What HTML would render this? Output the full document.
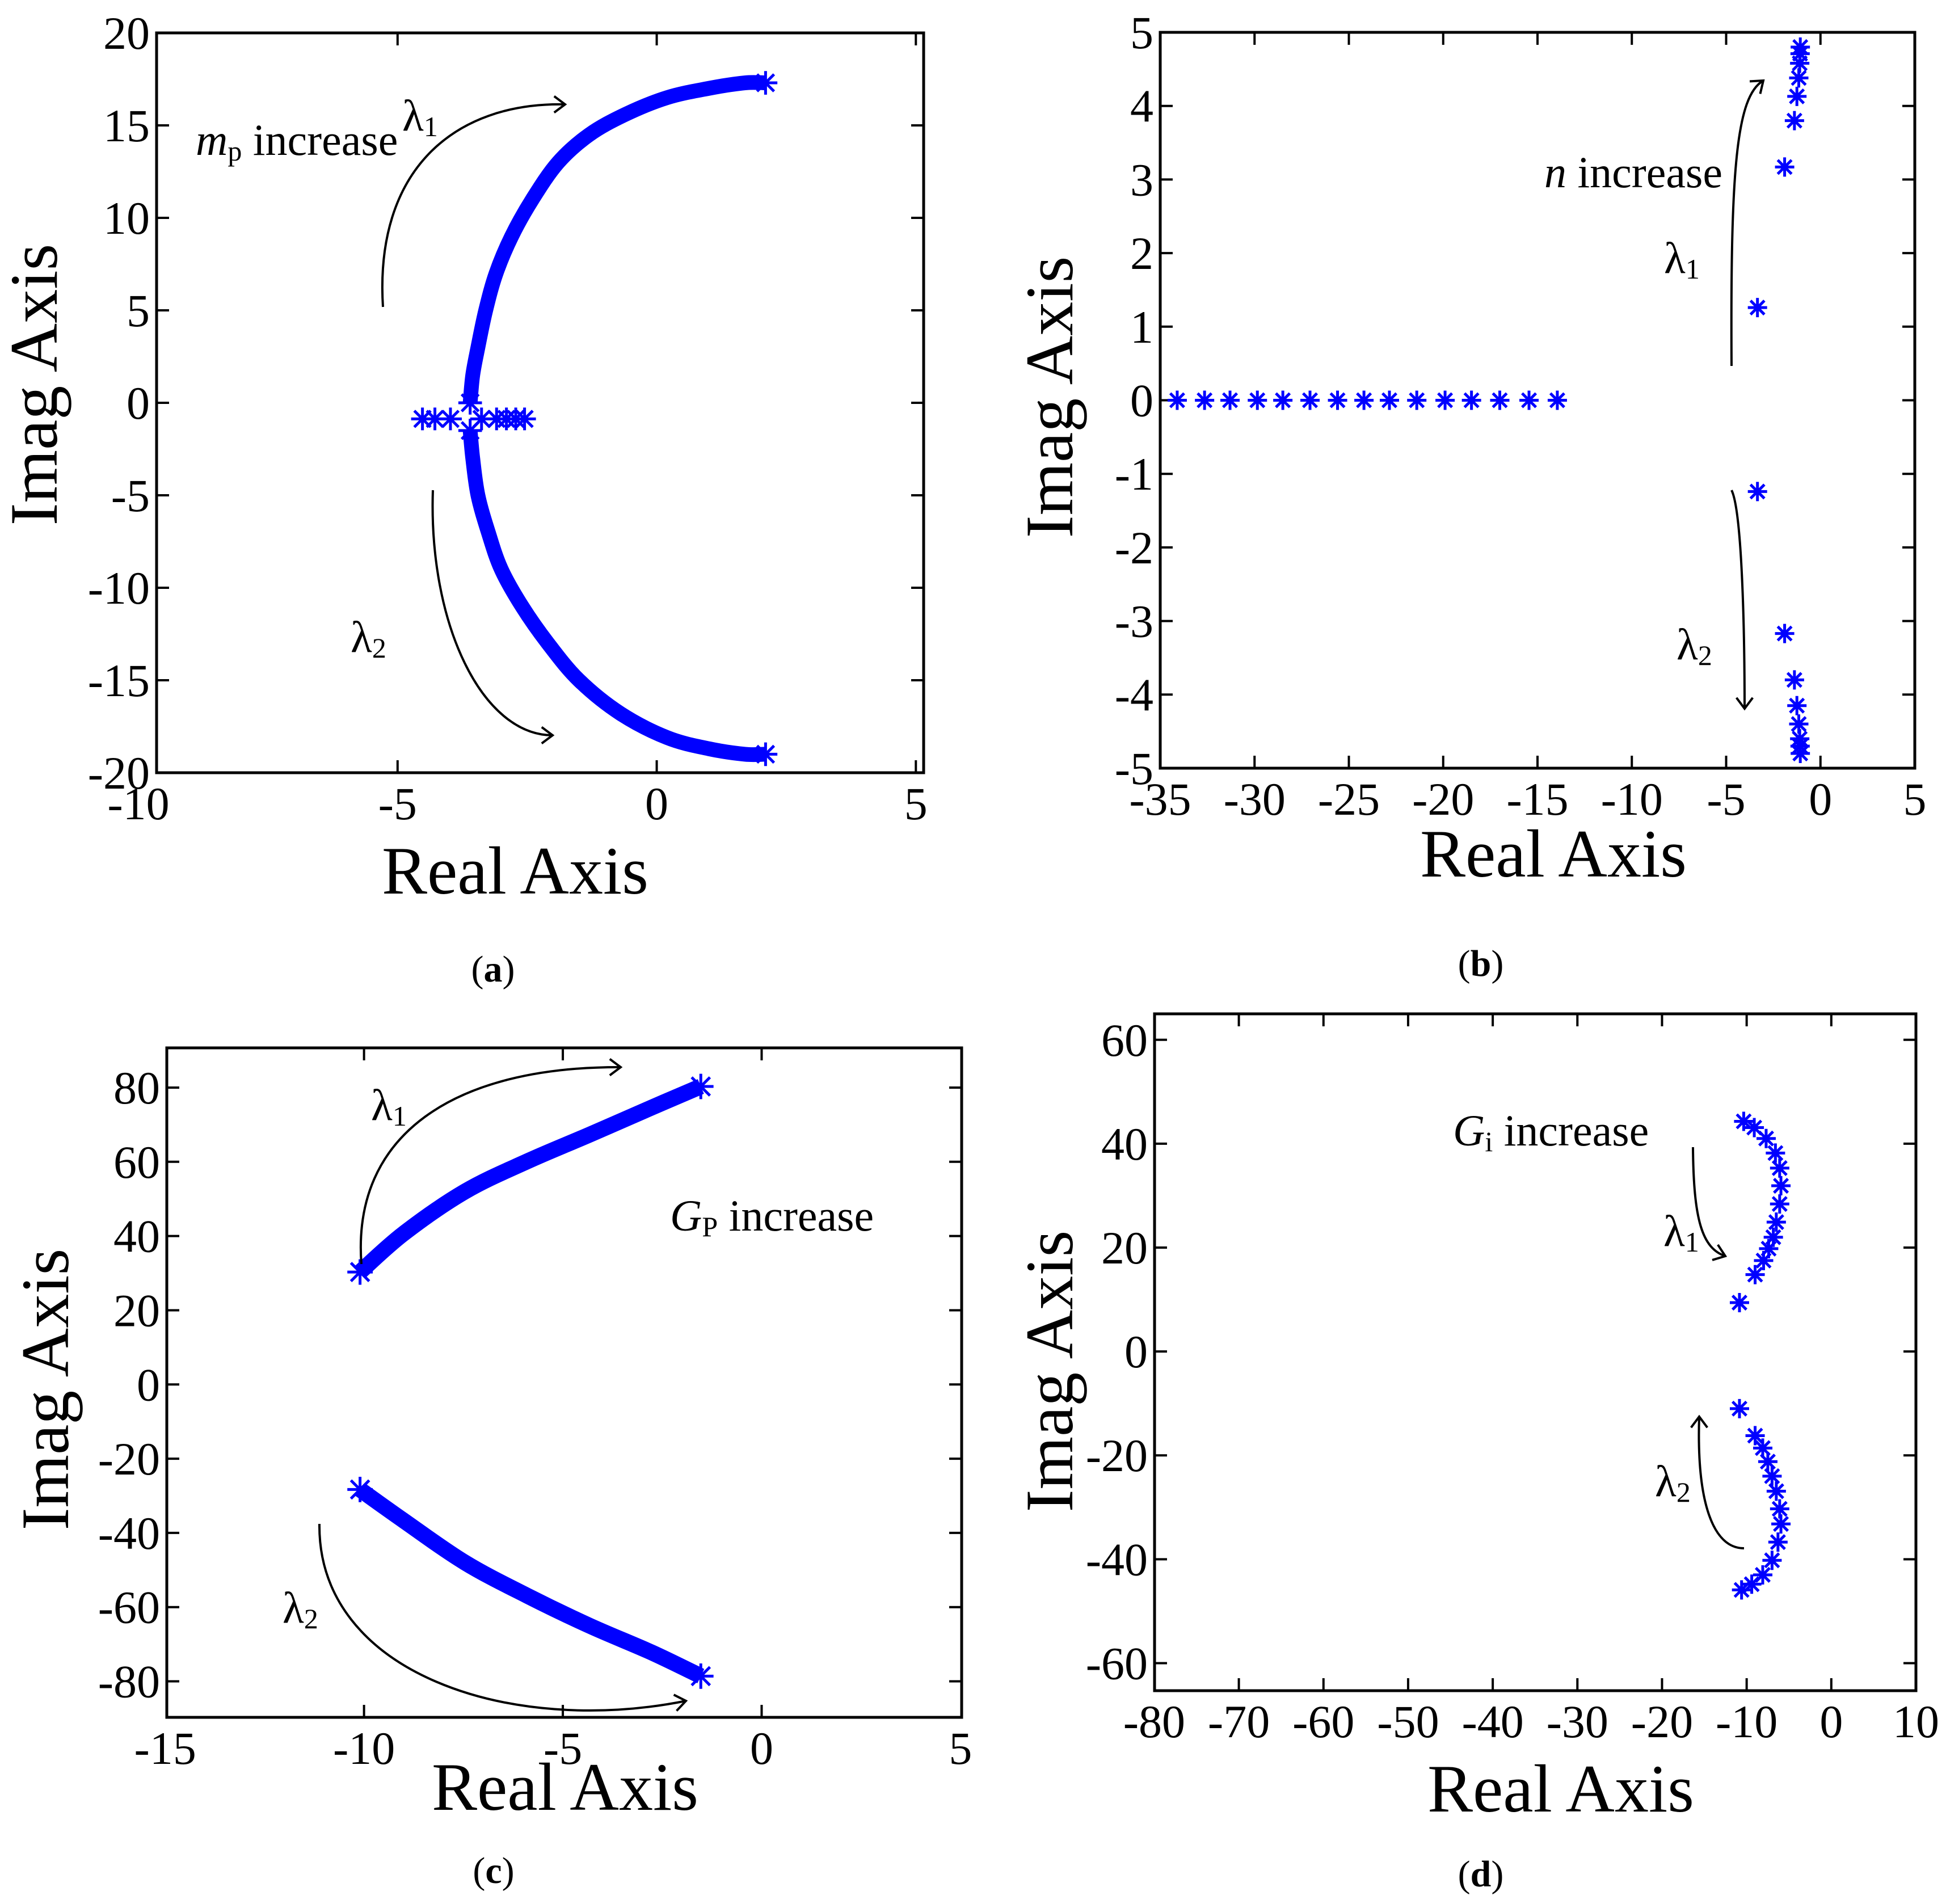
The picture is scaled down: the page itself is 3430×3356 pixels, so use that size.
<!DOCTYPE html>
<html><head><meta charset="utf-8">
<style>
html,body{margin:0;padding:0;background:#fff;}
svg{display:block;}
svg text{font-family:"Liberation Serif","DejaVu Serif",serif;}
</style></head>
<body>
<svg id="chart" width="3430" height="3356" viewBox="0 0 3430 3356" xmlns="http://www.w3.org/2000/svg" font-family="Liberation Serif, DejaVu Serif, serif"></svg>
<script>
// ---- Panel (a) data ----
const aUpperX = [-3.6,-3.55,-3.45,-3.3,-3.1,-2.8,-2.4,-1.9,-1.3,-0.6,0.2,1.0,1.7,2.1];
const aUpperY = [0,1.5,3,5,7,9,11,13,14.5,15.6,16.5,17.0,17.3,17.3];
const aLowerX = [-3.6,-3.55,-3.45,-3.25,-3.0,-2.6,-2.1,-1.5,-0.7,0.2,1.0,1.7,2.1];
const aLowerY = [-1.5,-3,-5,-7,-9,-11,-13,-15,-16.8,-18.1,-18.7,-19,-19];
const aRealX = [-4.52,-4.28,-3.98,-3.38,-3.09,-2.9,-2.72,-2.55];
const aRealY = [-0.87,-0.87,-0.87,-0.87,-0.87,-0.87,-0.87,-0.87];
const aXTicks = [-10,-5,0,5];
const aYTicks = [-20,-15,-10,-5,0,5,10,15,20];
// ---- Panel (b) data ----
const bRealX = [-34.1,-32.65,-31.3,-29.85,-28.5,-27.06,-25.6,-24.2,-22.85,-21.4,-19.9,-18.5,-17.0,-15.45,-13.95];
const bRealY = [0,0,0,0,0,0,0,0,0,0,0,0,0,0,0];
const bUpperX = [-3.34,-1.9,-1.38,-1.25,-1.15,-1.1,-1.08,-1.07];
const bUpperY = [1.26,3.17,3.8,4.13,4.38,4.58,4.71,4.8];
const bLowerX = [-3.34,-1.9,-1.38,-1.25,-1.15,-1.1,-1.08,-1.07];
const bLowerY = [-1.24,-3.17,-3.8,-4.15,-4.4,-4.6,-4.7,-4.8];
const bXTicks = [-35,-30,-25,-20,-15,-10,-5,0,5];
const bYTicks = [-5,-4,-3,-2,-1,0,1,2,3,4,5];
// ---- Panel (c) data ----
const cUpperX = [-10.1,-9.0,-7.46,-5.9,-4.33,-2.77,-1.53];
const cUpperY = [30.3,40.7,52,60.1,67.3,74.6,80.3];
const cLowerX = [-10.1,-9.0,-7.46,-5.9,-4.33,-2.77,-1.53];
const cLowerY = [-28.3,-36.7,-48,-56.9,-65,-72.2,-78.6];
const cXTicks = [-15,-10,-5,0,5];
const cYTicks = [-80,-60,-40,-20,0,20,40,60,80];
// ---- Panel (d) data ----
const dUpperX = [-10.85,-9.0,-8.0,-7.4,-6.85,-6.5,-6.1,-5.95,-6.1,-6.6,-7.7,-9.1,-10.35];
const dUpperY = [9.4,14.8,17.5,19.8,22,24.9,28.4,31.9,35.3,38.2,41,43.1,44.3];
const dLowerX = [-10.85,-9.0,-8.1,-7.5,-7.0,-6.5,-6.1,-5.95,-6.3,-7.0,-8.1,-9.4,-10.6];
const dLowerY = [-11.0,-16.2,-18.6,-21.2,-24.0,-26.9,-30.3,-33.2,-36.7,-40.2,-43.0,-44.8,-45.9];
const dXTicks = [-80,-70,-60,-50,-40,-30,-20,-10,0,10];
const dYTicks = [-60,-40,-20,0,20,40,60];

const NS = "http://www.w3.org/2000/svg";
const svg = document.getElementById('chart');
const FONT = '"Liberation Serif","DejaVu Serif",serif';
function mk(tag, attrs, parent){
  const e = document.createElementNS(NS, tag);
  for (const k in attrs) e.setAttribute(k, attrs[k]);
  if (tag === 'text') e.setAttribute('font-family', FONT);
  (parent||svg).appendChild(e);
  return e;
}
function lin(d0,d1,r0,r1){ return v => r0 + (v-d0)*(r1-r0)/(d1-d0); }

function panel(cfg){
  const g = mk('g',{});
  
  
  const sx = lin(cfg.xd[0],cfg.xd[1],cfg.L,cfg.R);
  const sy = lin(cfg.yd[0],cfg.yd[1],cfg.B,cfg.T);
  const frame = mk('rect',{x:cfg.L,y:cfg.T,width:cfg.R-cfg.L,height:cfg.B-cfg.T,fill:'none',stroke:'#000','stroke-width':5},g);
  
  
  const tl = 22;
  cfg.xt.forEach(v=>{
    const x = sx(v);
    if (x > cfg.L+3 && x < cfg.R-3){
      mk('line',{x1:x,y1:cfg.B,x2:x,y2:cfg.B-tl,stroke:'#000','stroke-width':4},g);
      mk('line',{x1:x,y1:cfg.T,x2:x,y2:cfg.T+tl,stroke:'#000','stroke-width':4},g);
    }
    const t = mk('text',{x:x,y:cfg.B+82,'font-size':82,'text-anchor':'middle'},g);
    t.textContent = String(v);
    
    
  });
  cfg.yt.forEach(v=>{
    const y = sy(v);
    if (y > cfg.T+3 && y < cfg.B-3){
      mk('line',{x1:cfg.L,y1:y,x2:cfg.L+tl,y2:y,stroke:'#000','stroke-width':4},g);
      mk('line',{x1:cfg.R,y1:y,x2:cfg.R-tl,y2:y,stroke:'#000','stroke-width':4},g);
    }
    const t = mk('text',{x:cfg.L-12,y:y+28,'font-size':82,'text-anchor':'end'},g);
    t.textContent = String(v);
    
    
  });
  const xt = mk('text',{x:cfg.xtx,y:cfg.xty,'font-size':120,'text-anchor':'middle'},g);
  xt.textContent = 'Real Axis';
  
  
  const yt = mk('text',{x:0,y:0,'font-size':120,'text-anchor':'middle',transform:`translate(${cfg.ytx},${cfg.yty}) rotate(-90)`},g);
  yt.textContent = 'Imag Axis';
  
  
  const cap = mk('text',{x:cfg.capx,y:cfg.capy,'font-size':66,'text-anchor':'middle'},g);
  cap.innerHTML = '(<tspan font-weight="bold">'+cfg.cap+'</tspan>)';
  
  
  return {g, sx, sy};
}

function star(g, x, y, s, w){
  const p = mk('path',{d:`M${x-s},${y}H${x+s}M${x},${y-s}V${y+s}M${x-s*0.72},${y-s*0.72}L${x+s*0.72},${y+s*0.72}M${x-s*0.72},${y+s*0.72}L${x+s*0.72},${y-s*0.72}`,stroke:'#0000ff','stroke-width':w,fill:'none'},g);
  
  
}
function smoothPath(P){
  let d = `M${P[0][0]},${P[0][1]}`;
  for (let i=0;i<P.length-1;i++){
    const p0=P[Math.max(0,i-1)], p1=P[i], p2=P[i+1], p3=P[Math.min(P.length-1,i+2)];
    const c1=[p1[0]+(p2[0]-p0[0])/6, p1[1]+(p2[1]-p0[1])/6];
    const c2=[p2[0]-(p3[0]-p1[0])/6, p2[1]-(p3[1]-p1[1])/6];
    d += ` C${c1[0]},${c1[1]} ${c2[0]},${c2[1]} ${p2[0]},${p2[1]}`;
  }
  return d;
}
function band(P, xs, ys, width, name){
  const pts = xs.map((v,i)=>[P.sx(v),P.sy(ys[i])]);
  const pl = mk('path',{d:smoothPath(pts),fill:'none',stroke:'#0000ff','stroke-width':width,'stroke-linejoin':'round','stroke-linecap':'butt'},P.g);
  
  
  const last = pts[pts.length-1], first = pts[0];
  star(P.g, first[0], first[1], width*0.8, 5);
  star(P.g, last[0], last[1], width*0.8, 5);
}
function points(P, xs, ys, s){
  xs.forEach((v,i)=>star(P.g,P.sx(v),P.sy(ys[i]),s,5));
}
function arrow(g, d, ax, ay, ang, name){
  const p = mk('path',{d:d,fill:'none',stroke:'#000','stroke-width':4},g);
  
  
  const a = ang*Math.PI/180, L=24;
  const h = mk('path',{d:`M${ax+L*Math.cos(a+2.5)},${ay+L*Math.sin(a+2.5)}L${ax},${ay}L${ax+L*Math.cos(a-2.5)},${ay+L*Math.sin(a-2.5)}`,fill:'none',stroke:'#000','stroke-width':4},g);
  
  
}
function label(g, x, y, html, name, size){
  const t = mk('text',{x:x,y:y,'font-size':size||78},g);
  t.innerHTML = html;
  
  
}
const lam1 = 'λ<tspan font-size="50" dy="10">1</tspan>';
const lam2 = 'λ<tspan font-size="50" dy="10">2</tspan>';

// Panel a
const A = panel({name:'panel-a',L:276,R:1628,T:58,B:1362,xd:[-9.65,5.15],yd:[-20,20],xt:aXTicks,yt:aYTicks,xtx:908,xty:1575,ytx:100,yty:678,capx:869,capy:1730,cap:'a'});
band(A,aUpperX,aUpperY,26,'lambda1-branch');
band(A,aLowerX,aLowerY,26,'lambda2-branch');
points(A,aRealX,aRealY,20);
arrow(A.g,'M675,541 C660,300 800,180 996,184',996,184,0,'lambda1-arrow');
arrow(A.g,'M763,864 C755,1100 850,1296 974,1296',974,1296,0,'lambda2-arrow');
label(A.g,345,273,'<tspan font-style="italic">m</tspan><tspan font-size="50" dy="10">p</tspan><tspan dy="-10">  increase</tspan>','mp-increase-label');
label(A.g,709,230,lam1,'lambda1-label');
label(A.g,618,1149,lam2,'lambda2-label');

// Panel b
const Bp = panel({name:'panel-b',L:2045,R:3375,T:57,B:1354,xd:[-35,5],yd:[-5,5],xt:bXTicks,yt:bYTicks,xtx:2738,xty:1545,ytx:1890,yty:700,capx:2610,capy:1720,cap:'b'});
points(Bp,bRealX,bRealY,17);
points(Bp,bUpperX,bUpperY,17);
points(Bp,bLowerX,bLowerY,17);
arrow(Bp.g,'M3052,645 C3050,300 3060,170 3108,142',3108,142,-40,'lambda1-arrow');
arrow(Bp.g,'M3052,864 C3070,900 3075,1100 3075,1249',3075,1249,90,'lambda2-arrow');
label(Bp.g,2722,330,'<tspan font-style="italic">n</tspan>  increase','n-increase-label');
label(Bp.g,2933,481,lam1,'lambda1-label');
label(Bp.g,2955,1162,lam2,'lambda2-label');

// Panel c
const C = panel({name:'panel-c',L:294,R:1695,T:1847,B:3027,xd:[-14.96,5.03],yd:[-89.7,90.7],xt:cXTicks,yt:cYTicks,xtx:996,xty:3190,ytx:120,yty:2449,capx:870,capy:3319,cap:'c'});
band(C,cUpperX,cUpperY,28,'lambda1-branch');
band(C,cLowerX,cLowerY,28,'lambda2-branch');
arrow(C.g,'M637,2228 C620,2000 800,1880 1094,1881',1094,1881,0,'lambda1-arrow');
arrow(C.g,'M563,2686 C560,2950 900,3060 1209,2998',1209,2998,-10,'lambda2-arrow');
label(C.g,1181,2169,'<tspan font-style="italic">G</tspan><tspan font-size="50" dy="10">P</tspan><tspan dy="-10"> increase</tspan>','gp-increase-label');
label(C.g,654,1974,lam1,'lambda1-label');
label(C.g,498,2860,lam2,'lambda2-label');

// Panel d
const D = panel({name:'panel-d',L:2035,R:3377,T:1787,B:2980,xd:[-79.96,10],yd:[-65.3,65],xt:dXTicks,yt:dYTicks,xtx:2751,xty:3193,ytx:1890,yty:2417,capx:2610,capy:3325,cap:'d'});
points(D,dUpperX,dUpperY,17);
points(D,dLowerX,dLowerY,17);
arrow(D.g,'M2984,2022 C2985,2150 3000,2200 3041,2214',3041,2214,20,'lambda1-arrow');
arrow(D.g,'M3074,2729 C3020,2729 2990,2650 2995,2497',2995,2497,-90,'lambda2-arrow');
label(D.g,2561,2019,'<tspan font-style="italic">G</tspan><tspan font-size="50" dy="10">i</tspan><tspan dy="-10">  increase</tspan>','gi-increase-label');
label(D.g,2932,2196,lam1,'lambda1-label');
label(D.g,2917,2637,lam2,'lambda2-label');
</script>
</body></html>
